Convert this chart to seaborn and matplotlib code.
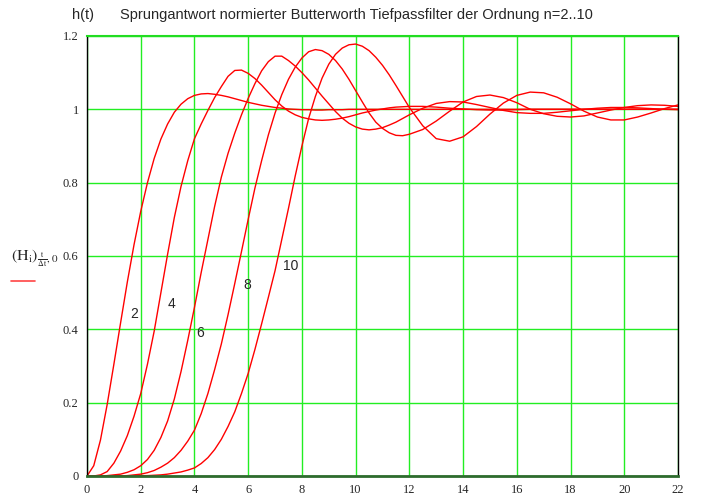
import pandas as pd
import seaborn as sns
import matplotlib.pyplot as plt
from matplotlib.lines import Line2D

# sample times (finer steps during the rise) and step responses
t = [0, 0.25, 0.5, 0.75, 1, 1.25, 1.5, 1.75, 2, 2.25, 2.5, 2.75, 3, 3.25, 3.5, 3.75,
     4, 4.25, 4.5, 4.75, 5, 5.25, 5.5, 5.75, 6, 6.25, 6.5, 6.75, 7, 7.25, 7.5, 7.75,
     8, 8.25, 8.5, 8.75, 9, 9.25, 9.5, 9.75, 10, 10.25, 10.5, 10.75, 11, 11.25, 11.5,
     11.75, 12,
     12.5, 13, 13.5, 14, 14.5, 15, 15.5, 16, 16.5, 17, 17.5, 18, 18.5, 19, 19.5, 20,
     20.5, 21, 21.5, 22]

h2 = [0, 0.028, 0.098, 0.195, 0.305, 0.418, 0.529, 0.631, 0.722, 0.800, 0.866, 0.919,
      0.960, 0.992, 1.014, 1.029, 1.038, 1.042, 1.043, 1.041, 1.038, 1.034, 1.029,
      1.024, 1.019, 1.015, 1.011, 1.008, 1.005, 1.003, 1.001, 1.000, 0.999, 0.999,
      0.998, 0.998, 0.999, 0.999, 0.999, 1.0, 1, 1, 1, 1, 1, 1, 1, 1, 1,
      1, 1, 1, 1, 1, 1, 1, 1, 1, 1, 1, 1, 1, 1, 1, 1, 1, 1, 1, 1]

h4 = [0, 0, 0.003, 0.012, 0.035, 0.068, 0.11, 0.163, 0.225, 0.305, 0.395, 0.5, 0.605,
      0.705, 0.79, 0.86, 0.92, 0.96, 0.997, 1.032, 1.062, 1.09, 1.106, 1.107, 1.098,
      1.084, 1.066, 1.046, 1.026, 1.009, 0.995, 0.985, 0.978, 0.974, 0.971, 0.970,
      0.971, 0.973, 0.976, 0.98, 0.985, 0.99, 0.994, 0.998, 1.001, 1.004, 1.006,
      1.007, 1.008,
      1.008, 1.006, 1.003, 1.001, 0.999, 0.998, 0.998, 0.999,
      1, 1, 1, 1, 1, 1, 1, 1, 1, 1, 1, 1]

h6 = [0, 0, 0, 0.001, 0.003, 0.005, 0.01, 0.017, 0.028, 0.045, 0.07, 0.105, 0.15,
      0.21, 0.285, 0.37, 0.46, 0.555, 0.645, 0.735, 0.815, 0.88, 0.935, 0.985, 1.03,
      1.07, 1.105, 1.13, 1.145, 1.145, 1.133, 1.118, 1.10, 1.08, 1.058, 1.036, 1.015,
      0.994, 0.976, 0.962, 0.952, 0.946, 0.944, 0.946, 0.95, 0.957, 0.965, 0.975,
      0.985,
      1.003, 1.016, 1.021, 1.02, 1.013, 1.005, 0.997, 0.991, 0.989, 0.989, 0.992,
      0.996, 1.0, 1.003, 1.005, 1.005, 1.004, 1.002, 1.0, 0.999]

h8 = [0, 0, 0, 0, 0, 0, 0.001, 0.003, 0.005, 0.009, 0.015, 0.024, 0.035, 0.05, 0.07,
      0.095, 0.125, 0.17, 0.225, 0.29, 0.36, 0.44, 0.525, 0.612, 0.70, 0.785, 0.86,
      0.93, 0.99, 1.04, 1.082, 1.115, 1.14, 1.157, 1.163, 1.16, 1.15, 1.133, 1.11,
      1.082, 1.051, 1.02, 0.99, 0.965, 0.948, 0.936, 0.929, 0.928, 0.932,
      0.945, 0.968, 0.995, 1.02, 1.035, 1.039, 1.032, 1.018, 1.0, 0.988, 0.981,
      0.979, 0.982, 0.99, 0.998, 1.005, 1.01, 1.012, 1.011, 1.008]

h10 = [0, 0, 0, 0, 0, 0, 0, 0, 0.001, 0.001, 0.002, 0.003, 0.005, 0.008, 0.011, 0.016,
       0.022, 0.034, 0.05, 0.072, 0.10, 0.135, 0.175, 0.225, 0.28, 0.345, 0.415, 0.487,
       0.56, 0.645, 0.73, 0.818, 0.90, 0.975, 1.035, 1.085, 1.123, 1.15, 1.167, 1.176,
       1.178, 1.172, 1.16, 1.142, 1.12, 1.094, 1.065, 1.035, 1.005,
       0.955, 0.92, 0.913, 0.925, 0.953, 0.987, 1.017, 1.038, 1.047, 1.045, 1.033,
       1.015, 0.995, 0.979, 0.971, 0.971, 0.979, 0.99, 1.002, 1.012]

orders = ["2", "4", "6", "8", "10"]
curves = [h2, h4, h6, h8, h10]
label_t = [1.74, 3.14, 4.22, 5.98, 7.6]
label_h = [0.443, 0.469, 0.39, 0.522, 0.574]

x_ticks = [0, 2, 4, 6, 8, 10, 12, 14, 16, 18, 20, 22]
y_ticks = [0, 0.2, 0.4, 0.6, 0.8, 1.0, 1.2]
y_tick_labels = ["0", "0.2", "0.4", "0.6", "0.8", "1", "1.2"]

df = pd.concat(
    [pd.DataFrame({"t": t, "h": h, "n": n}) for n, h in zip(orders, curves)],
    ignore_index=True,
)

sns.set_style("white")
plt.rcParams["mathtext.fontset"] = "stix"

fig = plt.figure(figsize=(7.03, 5.04), dpi=100)
ax = fig.add_axes([0.1238, 0.0556, 0.8406, 0.873])

sns.lineplot(data=df, x="t", y="h", hue="n", palette=["#ff0000"] * 5,
             legend=False, estimator=None, sort=False, linewidth=1.0, ax=ax)

ax.set_xlim(0, 22)
ax.set_ylim(0, 1.2)
ax.set_xticks(x_ticks)
ax.set_xticklabels([str(v) for v in x_ticks])
ax.set_yticks(y_ticks)
ax.set_yticklabels(y_tick_labels)
ax.grid(True, color="#22ee22", linewidth=1.0)
ax.set_axisbelow(True)
ax.tick_params(length=0, labelsize=9, pad=6)
for lab in ax.get_xticklabels() + ax.get_yticklabels():
    lab.set_fontfamily("Liberation Serif")
ax.set_xlabel("")
ax.set_ylabel("")

for side in ["left", "right"]:
    ax.spines[side].set_color("black")
    ax.spines[side].set_linewidth(1.0)
ax.spines["top"].set_color("#22dd22")
ax.spines["top"].set_linewidth(1.5)
ax.spines["bottom"].set_color("#2e6b2e")
ax.spines["bottom"].set_linewidth(2.0)

for n, x, y in zip(orders, label_t, label_h):
    ax.text(x, y, n, ha="center", va="center", fontsize=10,
            fontfamily="Liberation Sans")

fig.text(0.1024, 0.970, "h(t)", ha="left", va="center", fontsize=10.5,
         fontfamily="Liberation Sans")
fig.text(0.1707, 0.970,
         "Sprungantwort normierter Butterworth Tiefpassfilter der Ordnung n=2..10",
         ha="left", va="center", fontsize=10.5, fontfamily="Liberation Sans")

fig.text(0.05, 0.487,
         r"$\left(\mathrm{H}_{\mathrm{i}}\right)_{\frac{\mathrm{t}}{\Delta\mathrm{t}},0}$",
         ha="center", va="center", fontsize=11.5)
fig.add_artist(Line2D([0.0156, 0.0498], [0.4425, 0.4425], color="#ff4444",
                      linewidth=1.2, transform=fig.transFigure))

fig.savefig("out.png", dpi=100)
